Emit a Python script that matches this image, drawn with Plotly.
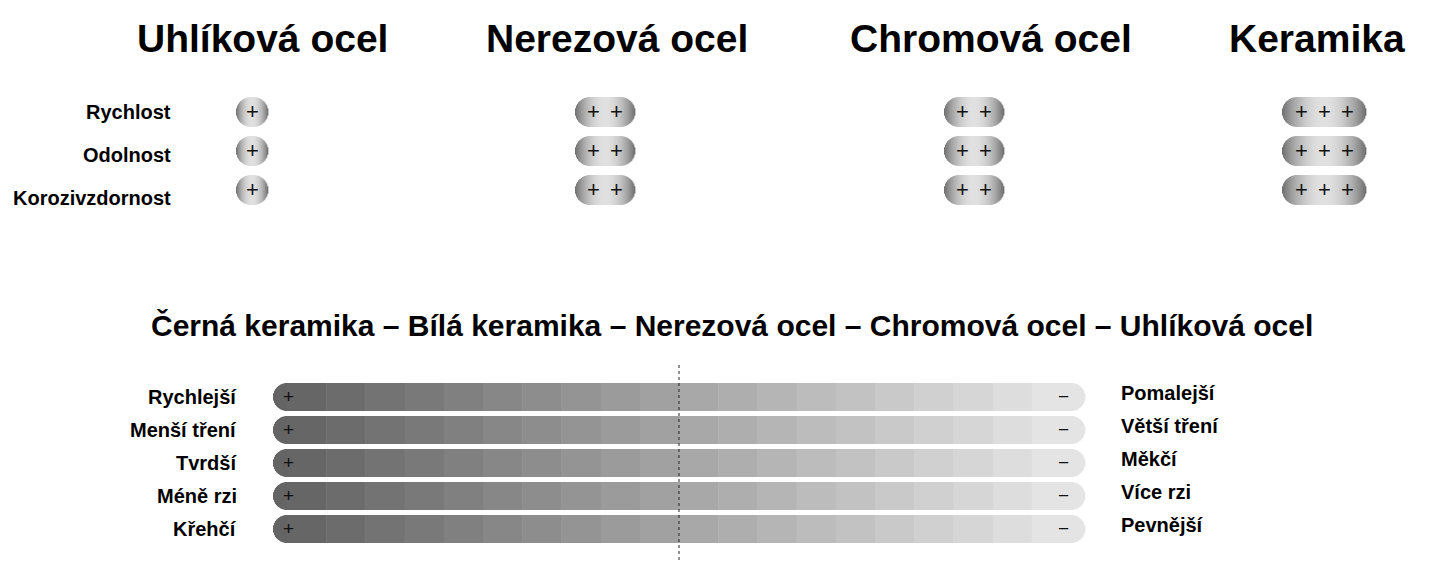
import math
import plotly.graph_objects as go

# top table: materials and their ratings (number of plus signs)
materials = ["Uhlíková ocel", "Nerezová ocel", "Chromová ocel", "Keramika"]
properties = ["Rychlost", "Odolnost", "Korozivzdornost"]
ratings = [[1, 1, 1], [2, 2, 2], [2, 2, 2], [3, 3, 3]]

# bottom scale
scale_title = "Černá keramika – Bílá keramika – Nerezová ocel – Chromová ocel – Uhlíková ocel"
left_labels = ["Rychlejší", "Menší tření", "Tvrdší", "Méně rzi", "Křehčí"]
right_labels = ["Pomalejší", "Větší tření", "Měkčí", "Více rzi", "Pevnější"]

W, H = 1431, 574
OFF = 8  # page body margin
FONT = "Liberation Sans, Arial, sans-serif"
col_x = [252, 605, 974, 1324]
head_x = [262, 617, 991, 1317]
row_y = [112, 151, 190]
label_y = [112, 155, 198]

shapes = []
annotations = []


def gray(v):
    v = int(max(0, min(255, v)))
    return f"rgb({v},{v},{v})"


def pill(cx, cy, w, h, step=1.0):
    r = h / 2
    x0 = cx - w / 2
    n = int(math.ceil(w / step))
    for i in range(n):
        xa = x0 + i * step
        xb = min(x0 + w, xa + step)
        xm = (xa + xb) / 2
        if xm < x0 + r:
            dx = x0 + r - xm
        elif xm > x0 + w - r:
            dx = xm - (x0 + w - r)
        else:
            dx = 0
        hh = math.sqrt(max(r * r - dx * dx, 0))
        t = (xm - cx) / (w / 2)
        c = gray(225 - 115 * t * t)
        shapes.append(dict(type="rect", x0=xa, x1=xb + 0.4, y0=cy - hh, y1=cy + hh,
                           fillcolor=c, line_width=0, layer="below"))


for m, name in enumerate(materials):
    annotations.append(dict(x=head_x[m], y=38, text=f"<b>{name}</b>", showarrow=False,
                            font=dict(size=39, color="black", family=FONT)))
    for p in range(len(properties)):
        k = ratings[m][p]
        w = 32 if k == 1 else 36 + 24 * (k - 1)
        pill(col_x[m], row_y[p], w, 30)
        for j in range(k):
            annotations.append(dict(x=col_x[m] + (j - (k - 1) / 2) * 23, y=row_y[p] - 1,
                                    text="+", showarrow=False,
                                    font=dict(size=22, color="#111", family=FONT)))

for p, prop in enumerate(properties):
    annotations.append(dict(x=173, y=label_y[p], text=f"<b>{prop}</b>", showarrow=False,
                            xanchor="right", font=dict(size=20, color="black", family=FONT)))

annotations.append(dict(x=732, y=325, text=f"<b>{scale_title}</b>", showarrow=False,
                        font=dict(size=30, color="black", family=FONT)))

bx0, bx1, bh = 273, 1085, 28
bar_y = [397, 430, 463, 496, 529]
bands = 20
for i, y in enumerate(bar_y):
    r = bh / 2
    # rounded caps from thin strips
    for side in (0, 1):
        for s in range(int(r)):
            dx = r - s - 0.5
            hh = math.sqrt(r * r - dx * dx)
            if side == 0:
                xa, c = bx0 + s, gray(100)
            else:
                xa, c = bx1 - s - 1, gray(228)
            shapes.append(dict(type="rect", x0=xa, x1=xa + 1.3, y0=y - hh, y1=y + hh,
                               fillcolor=c, line_width=0, layer="below"))
    bw = (bx1 - bx0 - 2 * r) / bands
    for b in range(bands):
        xa = bx0 + r + b * bw
        shapes.append(dict(type="rect", x0=xa, x1=xa + bw + 0.5, y0=y - r, y1=y + r,
                           fillcolor=gray(102 + 126 * b / (bands - 1)), line_width=0, layer="below"))
    annotations.append(dict(x=288, y=y - 1, text="+", showarrow=False,
                            font=dict(size=19, color="#111", family=FONT)))
    annotations.append(dict(x=1063, y=y - 1, text="−", showarrow=False,
                            font=dict(size=19, color="#111", family=FONT)))
    annotations.append(dict(x=239, y=y, text=f"<b>{left_labels[i]}</b>", showarrow=False,
                            xanchor="right", font=dict(size=20, color="black", family=FONT)))
    annotations.append(dict(x=1119, y=y - 4, text=f"<b>{right_labels[i]}</b>", showarrow=False,
                            xanchor="left", font=dict(size=20, color="black", family=FONT)))

shapes.append(dict(type="line", x0=679, x1=679, y0=365, y1=562,
                   line=dict(color="#222", width=1, dash="dot")))

fig = go.Figure()
fig.update_layout(
    width=W, height=H, margin=dict(l=0, r=0, t=0, b=0),
    paper_bgcolor="white", plot_bgcolor="white",
    xaxis=dict(range=[OFF, W + OFF], visible=False, fixedrange=True),
    yaxis=dict(range=[H + OFF, OFF], visible=False, fixedrange=True),
    shapes=shapes, annotations=annotations, showlegend=False,
)
fig.write_html("out.html")
